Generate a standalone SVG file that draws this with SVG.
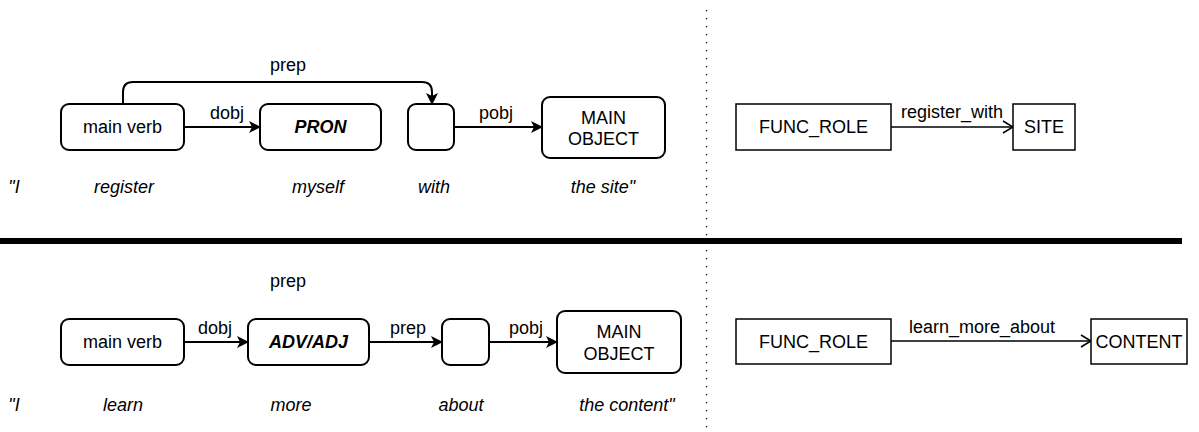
<svg xmlns="http://www.w3.org/2000/svg" width="1199" height="432" viewBox="0 0 1199 432">
  <defs>
    <marker id="arrowFilled" viewBox="0 0 12 12" refX="11" refY="6" markerWidth="12" markerHeight="12" markerUnits="userSpaceOnUse" orient="auto">
      <path d="M0,0 L12,6 L0,12 L3,6 Z" fill="#000"/>
    </marker>
    <marker id="arrowOpen" viewBox="0 0 12 14" refX="11" refY="7" markerWidth="12" markerHeight="14" markerUnits="userSpaceOnUse" orient="auto">
      <path d="M1,1 L11,7 L1,13" fill="none" stroke="#000" stroke-width="1.5"/>
    </marker>
  </defs>
  <style>
    text { font-family: "Liberation Sans", Arial, Helvetica, sans-serif; font-size: 18px; fill: #000; }
    .node { fill: #fff; stroke: #000; stroke-width: 2; }
    .sq { fill: #fff; stroke: #000; stroke-width: 1.5; }
    .edge { fill: none; stroke: #000; stroke-width: 2; }
    .edge-open { fill: none; stroke: #000; stroke-width: 1.5; }
    .lbl { text-anchor: middle; }
    .word { font-style: italic; text-anchor: middle; }
    .bi { font-style: italic; font-weight: bold; }
  </style>
  <rect width="1199" height="432" fill="#fff"/>

  <!-- separators -->
  <line x1="0" y1="241" x2="1182" y2="241" stroke="#000" stroke-width="6"/>
  <line x1="706.5" y1="10" x2="706.5" y2="430" stroke="#000" stroke-width="1.2" stroke-dasharray="1.2 6.8"/>

  <!-- connectors -->
  <g id="connectors">
    <!-- top sentence -->
    <line class="edge" x1="184" y1="127" x2="260" y2="127" marker-end="url(#arrowFilled)"/>
    <path class="edge" d="M123,104 V92 Q123,82 133,82 H422 Q432,82 432,92 V104" marker-end="url(#arrowFilled)"/>
    <line class="edge" x1="454" y1="127" x2="542" y2="127" marker-end="url(#arrowFilled)"/>
    <line class="edge-open" x1="891" y1="127" x2="1013" y2="127" marker-end="url(#arrowOpen)"/>
    <!-- bottom sentence -->
    <line class="edge" x1="184" y1="342" x2="248" y2="342" marker-end="url(#arrowFilled)"/>
    <line class="edge" x1="369" y1="342" x2="442" y2="342" marker-end="url(#arrowFilled)"/>
    <line class="edge" x1="489" y1="342" x2="557" y2="342" marker-end="url(#arrowFilled)"/>
    <line class="edge-open" x1="891" y1="341" x2="1091" y2="341" marker-end="url(#arrowOpen)"/>

    <text class="lbl" x="227" y="119">dobj</text>
    <text class="lbl" x="288" y="71">prep</text>
    <text class="lbl" x="496" y="119">pobj</text>
    <text class="lbl" x="952" y="118">register_with</text>

    <text class="lbl" x="215" y="334">dobj</text>
    <text class="lbl" x="288" y="287">prep</text>
    <text class="lbl" x="408" y="334">prep</text>
    <text class="lbl" x="526" y="334">pobj</text>
    <text class="lbl" x="982" y="333">learn_more_about</text>
  </g>

  <!-- top sentence nodes -->
  <g id="top-main-verb">
    <rect class="node" x="61" y="104" width="123" height="46" rx="8"/>
    <text class="lbl" x="122.5" y="133">main verb</text>
  </g>
  <g id="top-pron">
    <rect class="node" x="260" y="104" width="121" height="46" rx="8"/>
    <text class="lbl bi" x="320.5" y="133">PRON</text>
  </g>
  <g id="top-prep">
    <rect class="node" x="408" y="104" width="46" height="46" rx="8"/>
  </g>
  <g id="top-main-object">
    <rect class="node" x="542" y="97" width="123" height="61" rx="8"/>
    <text class="lbl" x="603.5" y="124">MAIN</text>
    <text class="lbl" x="603.5" y="145">OBJECT</text>
  </g>
  <g id="top-func-role">
    <rect class="sq" x="736" y="104" width="155" height="46"/>
    <text class="lbl" x="813.5" y="133">FUNC_ROLE</text>
  </g>
  <g id="top-site">
    <rect class="sq" x="1013" y="104" width="62" height="46"/>
    <text class="lbl" x="1044" y="133">SITE</text>
  </g>

  <!-- top sentence words -->
  <g id="top-words">
    <text class="word" x="14" y="193">"I</text>
    <text class="word" x="124" y="193">register</text>
    <text class="word" x="318" y="193">myself</text>
    <text class="word" x="434" y="193">with</text>
    <text class="word" x="603" y="193">the site"</text>
  </g>

  <!-- bottom sentence nodes -->
  <g id="bottom-main-verb">
    <rect class="node" x="61" y="319" width="123" height="46" rx="8"/>
    <text class="lbl" x="122.5" y="348">main verb</text>
  </g>
  <g id="bottom-adv-adj">
    <rect class="node" x="248" y="319" width="121" height="46" rx="8"/>
    <text class="lbl bi" x="308.5" y="348">ADV/ADJ</text>
  </g>
  <g id="bottom-prep">
    <rect class="node" x="442" y="319" width="47" height="46" rx="8"/>
  </g>
  <g id="bottom-main-object">
    <rect class="node" x="557" y="311" width="124" height="62" rx="8"/>
    <text class="lbl" x="619" y="338">MAIN</text>
    <text class="lbl" x="619" y="360">OBJECT</text>
  </g>
  <g id="bottom-func-role">
    <rect class="sq" x="736" y="319" width="155" height="45"/>
    <text class="lbl" x="813.5" y="348">FUNC_ROLE</text>
  </g>
  <g id="bottom-content">
    <rect class="sq" x="1091" y="319" width="96" height="45"/>
    <text class="lbl" x="1139" y="348">CONTENT</text>
  </g>

  <!-- bottom sentence words -->
  <g id="bottom-words">
    <text class="word" x="14" y="411">"I</text>
    <text class="word" x="123" y="411">learn</text>
    <text class="word" x="291" y="411">more</text>
    <text class="word" x="461" y="411">about</text>
    <text class="word" x="627" y="411">the content"</text>
  </g>
</svg>
